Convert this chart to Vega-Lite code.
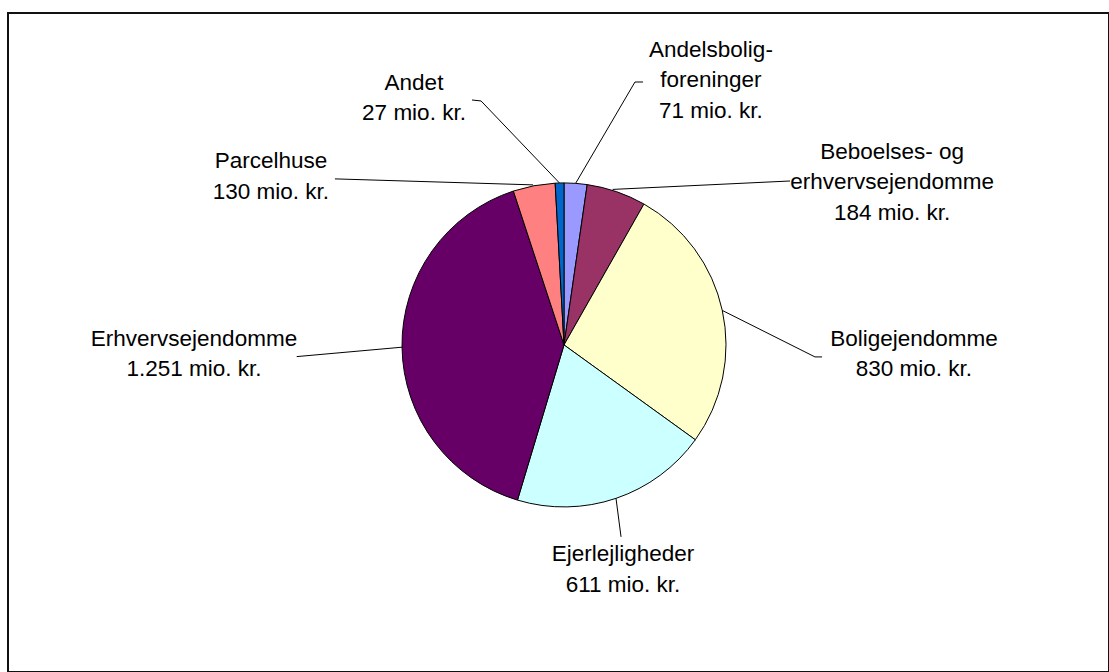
{
  "$schema": "https://vega.github.io/schema/vega-lite/v6.json",
  "width": 1101,
  "height": 659,
  "autosize": "none",
  "padding": {"left": 8, "top": 13, "right": 0, "bottom": 0},
  "background": "white",
  "config": {
    "view": {"stroke": "#111111", "strokeWidth": 2},
    "text": {"font": "Liberation Sans"}
  },
  "datasets": {
    "slices": [
      {"label": "Andelsboligforeninger", "value": 71, "order": 1},
      {"label": "Beboelses- og erhvervsejendomme", "value": 184, "order": 2},
      {"label": "Boligejendomme", "value": 830, "order": 3},
      {"label": "Ejerlejligheder", "value": 611, "order": 4},
      {"label": "Erhvervsejendomme", "value": 1251, "order": 5},
      {"label": "Parcelhuse", "value": 130, "order": 6},
      {"label": "Andet", "value": 27, "order": 7}
    ],
    "leaders": [
      {"label": "Andelsboligforeninger", "seq": 1, "u": 0.0715, "v": 0.997},
      {"label": "Andelsboligforeninger", "seq": 2, "u": 0.438, "v": 1.623},
      {"label": "Andelsboligforeninger", "seq": 3, "u": 0.488, "v": 1.623},
      {"label": "Beboelses- og erhvervsejendomme", "seq": 1, "u": 0.30, "v": 0.96},
      {"label": "Beboelses- og erhvervsejendomme", "seq": 2, "u": 1.395, "v": 1.012},
      {"label": "Boligejendomme", "seq": 1, "u": 0.977, "v": 0.213},
      {"label": "Boligejendomme", "seq": 2, "u": 1.549, "v": -0.074},
      {"label": "Boligejendomme", "seq": 3, "u": 1.593, "v": -0.074},
      {"label": "Ejerlejligheder", "seq": 1, "u": 0.321, "v": -0.947},
      {"label": "Ejerlejligheder", "seq": 2, "u": 0.352, "v": -1.185},
      {"label": "Erhvervsejendomme", "seq": 1, "u": -0.9999, "v": -0.014},
      {"label": "Erhvervsejendomme", "seq": 2, "u": -1.650, "v": -0.072},
      {"label": "Parcelhuse", "seq": 1, "u": -0.191, "v": 0.988},
      {"label": "Parcelhuse", "seq": 2, "u": -1.414, "v": 1.025},
      {"label": "Andet", "seq": 1, "u": -0.028, "v": 0.9996},
      {"label": "Andet", "seq": 2, "u": -0.512, "v": 1.506},
      {"label": "Andet", "seq": 3, "u": -0.568, "v": 1.512}
    ],
    "labels": [
      {"label": "Andelsboligforeninger", "lines": ["Andelsbolig-", "foreninger", "71 mio. kr."], "u": 0.907, "v": 1.823},
      {"label": "Beboelses- og erhvervsejendomme", "lines": ["Beboelses- og", "erhvervsejendomme", "184 mio. kr."], "u": 2.025, "v": 1.191},
      {"label": "Boligejendomme", "lines": ["Boligejendomme", "830 mio. kr."], "u": 2.160, "v": 0.037},
      {"label": "Ejerlejligheder", "lines": ["Ejerlejligheder", "611 mio. kr."], "u": 0.364, "v": -1.293},
      {"label": "Erhvervsejendomme", "lines": ["Erhvervsejendomme", "1.251 mio. kr."], "u": -2.284, "v": 0.037},
      {"label": "Parcelhuse", "lines": ["Parcelhuse", "130 mio. kr."], "u": -1.809, "v": 1.133},
      {"label": "Andet", "lines": ["Andet", "27 mio. kr."], "u": -0.926, "v": 1.619}
    ]
  },
  "layer": [
    {
      "data": {"name": "slices"},
      "mark": {"type": "arc", "outerRadius": 162, "stroke": "#000000", "strokeWidth": 1},
      "encoding": {
        "theta": {"field": "value", "type": "quantitative", "stack": true},
        "order": {"field": "order", "type": "quantitative"},
        "color": {
          "field": "label",
          "type": "nominal",
          "legend": null,
          "scale": {
            "domain": ["Andelsboligforeninger", "Beboelses- og erhvervsejendomme", "Boligejendomme", "Ejerlejligheder", "Erhvervsejendomme", "Parcelhuse", "Andet"],
            "range": ["#9999FF", "#993366", "#FFFFCC", "#CCFFFF", "#660066", "#FF8080", "#0066CC"]
          }
        },
        "x": {"datum": 0, "type": "quantitative", "scale": {"domain": [-3.432, 3.364], "nice": false, "zero": false}, "axis": null},
        "y": {"datum": 0, "type": "quantitative", "scale": {"domain": [-2.019, 2.049], "nice": false, "zero": false}, "axis": null}
      }
    },
    {
      "data": {"name": "leaders"},
      "mark": {"type": "line", "color": "#000000", "strokeWidth": 1},
      "encoding": {
        "x": {"field": "u", "type": "quantitative", "axis": null},
        "y": {"field": "v", "type": "quantitative", "axis": null},
        "detail": {"field": "label"},
        "order": {"field": "seq", "type": "quantitative"}
      }
    },
    {
      "data": {"name": "labels"},
      "mark": {"type": "text", "fontSize": 22.5, "lineHeight": 30.5, "align": "center", "baseline": "middle", "color": "#000000"},
      "encoding": {
        "x": {"field": "u", "type": "quantitative", "axis": null},
        "y": {"field": "v", "type": "quantitative", "axis": null},
        "text": {"field": "lines"}
      }
    }
  ]
}
